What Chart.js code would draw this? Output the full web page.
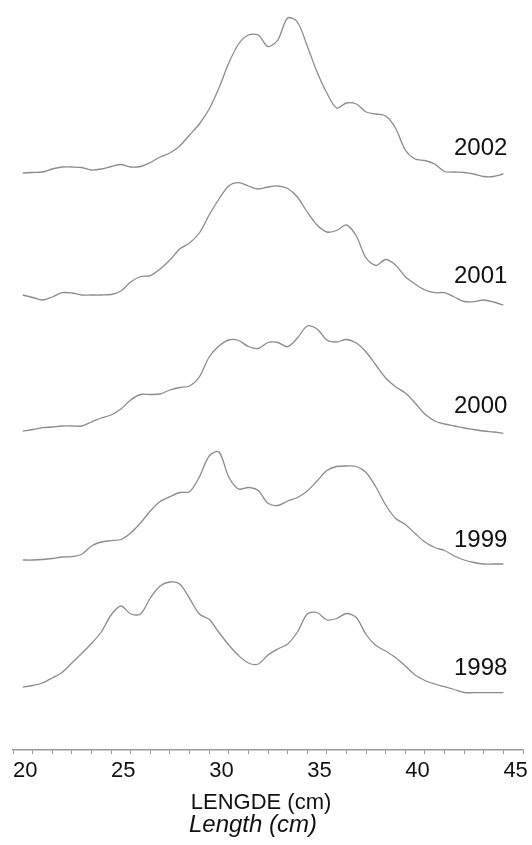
<!DOCTYPE html>
<html lang="no">
<head>
  <meta charset="UTF-8" />
  <title>Lengdefordeling 1998-2002</title>
  <script src="https://cdn.jsdelivr.net/npm/chart.js"></script>
  <style>
    html, body { margin: 0; padding: 0; background: #fff; }
    #wrap { width: 532px; height: 845px; }
  </style>
</head>
<body>
<div id="wrap"><canvas id="ridge" width="532" height="845"></canvas></div>

<script>
  // lengde (cm), felles for alle år
  const lengthCm = [20.5, 21, 21.5, 22, 22.5, 23, 23.5, 24, 24.5, 25,
                    25.5, 26, 26.5, 27, 27.5, 28, 28.5, 29, 29.5, 30,
                    30.5, 31, 31.5, 32, 32.5, 33, 33.5, 34, 34.5, 35,
                    35.5, 36, 36.5, 37, 37.5, 38, 38.5, 39, 39.5, 40,
                    40.5, 41, 41.5, 42, 42.5, 43, 43.5, 44, 44.5, 45];

  const years = ['1998', '1999', '2000', '2001', '2002'];

  // grunnlinje for hver kurve (forskyvning i plottet)
  const baseline = [63, 190, 319, 455, 577];

  // høyde over grunnlinja, lest av figuren
  const h1998 = [0, 1.5, 4, 9, 14.5, 24, 33.5, 43.5, 55, 72,
                 81, 73, 73, 89, 101, 105, 103, 88.7, 73, 67.7,
                 54.5, 42, 31.5, 24, 23, 32, 38, 43, 55, 73,
                 74.5, 67, 68.5, 73.5, 69.5, 52.5, 41.5, 36, 29.5, 21,
                 12, 6.5, 3, 0.3, -2.5, -5.5, -5.7, -5.7, -5.7, -5.7];

  const h1999 = [0, 0, 0.5, 1.5, 3, 3.3, 5.7, 14, 18, 19.3,
                 20.5, 27, 37, 49, 58.5, 63.3, 67.5, 68.3, 83, 104,
                 108, 83, 71, 72.5, 69.5, 56.7, 54.5, 59, 62.5, 69,
                 79, 89.5, 93.5, 94, 93.5, 87.5, 73, 55, 41.7, 35.5,
                 26.5, 18, 12.5, 9.5, 4, 0, -2.5, -4, -4, -4];

  const h2000 = [0, 1.5, 3.3, 4, 5, 5, 5, 9, 13, 16,
                 22, 31, 36.5, 36.5, 37, 41, 43.5, 45, 54, 74,
                 85, 91, 90.5, 84.5, 82.5, 88.5, 88.5, 84.3, 93, 105,
                 102, 91, 89, 91.5, 88, 79, 66, 53, 44.3, 38,
                 28, 17, 10, 7, 5, 3, 1.5, 0, -1, -2.3];

  const h2001 = [0, -2.5, -5, -2, 2.3, 2, 0, 0, 0, 0.5,
                 4, 13, 18.5, 19.3, 26, 35, 46, 52, 62, 80,
                 96, 109, 112.3, 109, 106, 108, 109, 106.5, 98, 83,
                 70, 63, 64.5, 70, 59, 37, 29.5, 35.5, 30, 18.3,
                 11, 5, 2.3, 2.3, -2, -6.5, -6.7, -5, -7, -10];

  const h2002 = [0, 0.5, 1, 4, 6, 6, 5.5, 3, 4, 6.5,
                 8.5, 6, 6.5, 10.5, 16, 20, 27, 38, 49, 64,
                 85, 110, 129, 138, 138, 126.5, 133, 155, 151, 127,
                 101, 80, 65, 70, 69, 61, 59, 57, 45, 23,
                 14, 12.5, 9, 1.5, 1, 0.5, -1, -3.5, -3.5, -1];

  const heights = [h1998, h1999, h2000, h2001, h2002];

  // plassering av årstallene (samme enhet som y-aksen)
  const yearLabelY = [75, 203, 337, 467, 595];

  const datasets = years.map((yr, k) => ({
    label: yr,
    data: lengthCm.map((x, i) => ({ x: x, y: baseline[k] + heights[k][i] })),
    borderColor: '#8c8c8c',
    borderWidth: 1.3,
    pointRadius: 0,
    tension: 0.3,
    fill: false
  }));

  // årstall og aksetitler tegnes selv
  const textPlugin = {
    id: 'textPlugin',
    afterDraw(chart) {
      const ctx = chart.ctx;
      const xs = chart.scales.x;
      const ys = chart.scales.y;
      ctx.save();
      ctx.fillStyle = '#111';
      ctx.font = '24px "Liberation Sans", Arial, sans-serif';
      ctx.textAlign = 'right';
      ctx.textBaseline = 'alphabetic';
      years.forEach((yr, k) => {
        ctx.fillText(yr, xs.getPixelForValue(45) + 4, ys.getPixelForValue(yearLabelY[k]));
      });

      ctx.textAlign = 'center';
      ctx.font = '22px "Liberation Sans", Arial, sans-serif';
      ctx.fillText('LENGDE (cm)', 261, 809);
      ctx.font = 'italic 24px "Liberation Sans", Arial, sans-serif';
      ctx.fillText('Length (cm)', 253, 832);
      ctx.restore();
    }
  };

  new Chart(document.getElementById('ridge'), {
    type: 'line',
    data: { datasets: datasets },
    options: {
      responsive: false,
      animation: false,
      layout: { padding: { left: 13, right: 9, top: 0, bottom: 0 } },
      plugins: {
        legend: { display: false },
        tooltip: { enabled: false }
      },
      scales: {
        x: {
          type: 'linear',
          min: 20,
          max: 46,
          afterFit: (s) => { s.height = 95; },
          border: { display: true, color: '#999', width: 1.5 },
          grid: { drawOnChartArea: false, drawTicks: true, tickLength: 4, color: '#999', lineWidth: 1 },
          ticks: {
            stepSize: 1,
            autoSkip: false,
            maxRotation: 0,
            align: 'start',
            padding: 4,
            color: '#111',
            font: { family: '"Liberation Sans", Arial, sans-serif', size: 22 },
            callback: (v) => (v % 5 === 0 && v <= 45) ? String(v) : ''
          }
        },
        y: {
          display: false,
          min: 0,
          max: 750
        }
      }
    },
    plugins: [textPlugin]
  });
</script>
</body>
</html>
